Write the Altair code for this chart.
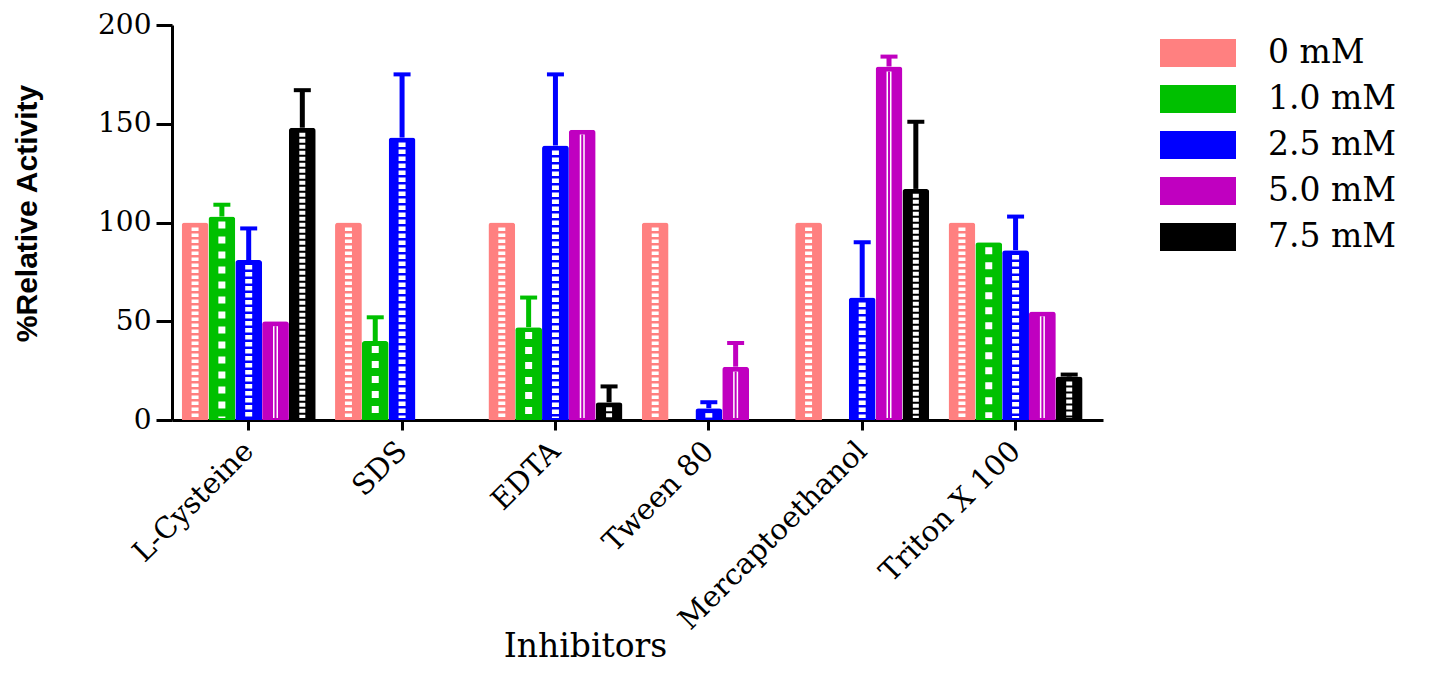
import altair as alt
import pandas as pd

inhibitors = ["L-Cysteine", "SDS", "EDTA", "Tween 80", "Mercaptoethanol", "Triton X 100"]
concs = ["0 mM", "1.0 mM", "2.5 mM", "5.0 mM", "7.5 mM"]
colors = ["#FF8080", "#00C000", "#0000FF", "#C000C0", "#000000"]

act_0 = [100, 100, 100, 100, 100, 100]
act_10 = [103, 40, 47, None, None, 90]
act_25 = [81, 143, 139, 6, 62, 86]
act_50 = [50, None, 147, 27, 179, 55]
act_75 = [148, None, 9, None, 117, 22]

err_0 = [None, None, None, None, None, None]
err_10 = [109, 52, 62, None, None, None]
err_25 = [97, 175, 175, 9, 90, 103]
err_50 = [None, None, None, 39, 184, None]
err_75 = [167, None, 17, None, 151, 23]

acts = [act_0, act_10, act_25, act_50, act_75]
errs = [err_0, err_10, err_25, err_50, err_75]

rows = []
for c, av, ev in zip(concs, acts, errs):
    for inh, a, e in zip(inhibitors, av, ev):
        if a is None:
            continue
        rows.append({"inhibitor": inh, "conc": c, "value": a, "err": e})
df = pd.DataFrame(rows)

serif = "DejaVu Serif"

X = alt.X("inhibitor:N", sort=inhibitors,
          scale=alt.Scale(domain=inhibitors, paddingInner=0, paddingOuter=0.035, align=0),
          axis=alt.Axis(title="Inhibitors", labelAngle=-45, labelAlign="right", labelBaseline="middle",
                        labelFont=serif, labelFontSize=29, labelColor="black", labelPadding=16,
                        labelLimit=0, labelOverlap=False,
                        tickSize=10, tickWidth=3, tickColor="black", domainWidth=3, domainColor="black",
                        titleFont=serif, titleFontSize=33, titleFontWeight="normal", titleColor="black",
                        titleX=413, titleY=226, titleBaseline="middle", titleAnchor="middle",
                        titleAlign="center"))
XO = alt.XOffset("conc:N", sort=concs,
                 scale=alt.Scale(domain=concs, paddingInner=0.0, paddingOuter=0.36))
Y = alt.Y("value:Q", scale=alt.Scale(domain=[0, 200], nice=False),
          axis=alt.Axis(title="%Relative Activity", values=[0, 50, 100, 150, 200], grid=False,
                        labelFont=serif, labelFontSize=28, labelColor="black", labelPadding=5,
                        tickSize=16, tickWidth=3, tickColor="black", domainWidth=3, domainColor="black",
                        titleFont="Liberation Sans", titleFontSize=30, titleFontWeight="bold",
                        titleColor="black", titleX=-145, titleY=188, titleAngle=-90,
                        titleAlign="center", titleBaseline="middle"))
C = alt.Color("conc:N", sort=concs, scale=alt.Scale(domain=concs, range=colors),
              legend=alt.Legend(orient="none", legendX=1007, legendY=9, title=None,
                                symbolType="M-2,-0.74L2,-0.74L2,0.74L-2,0.74Z",
                                symbolSize=1444, symbolStrokeWidth=0, symbolOpacity=1,
                                labelFont=serif, labelFontSize=33, labelColor="black",
                                labelOffset=51, rowPadding=10))
Cn = alt.Color("conc:N", sort=concs, scale=alt.Scale(domain=concs, range=colors), legend=None)

base = alt.Chart(df)

bars = base.mark_bar(cornerRadiusTopLeft=3, cornerRadiusTopRight=3).encode(x=X, xOffset=XO, y=Y, color=C)

errdf = base.transform_filter("datum.err != null")
err_lines = errdf.mark_rule(strokeWidth=5).encode(x=X, xOffset=XO, y=Y, y2="err:Q", color=Cn)
err_caps = errdf.mark_tick(thickness=4, size=17, opacity=1).encode(
    x=X, xOffset=XO, y=alt.Y("err:Q"), color=Cn)

def pattern(conc, width, dash, color="white"):
    m = base.transform_filter(alt.datum.conc == conc).transform_calculate(
        top="datum.value - 2.5", bot="1")
    kw = {"strokeWidth": width, "color": color}
    if dash:
        kw["strokeDash"] = dash
    return m.mark_rule(**kw).encode(x=X, xOffset=XO, y=alt.Y("top:Q"), y2="bot:Q")

layers = [bars, err_lines, err_caps,
          pattern("0 mM", 7, [3.5, 2.5]),
          pattern("1.0 mM", 7, [7, 8]),
          pattern("2.5 mM", 7, [4.5, 2.5]),
          pattern("5.0 mM", 5, None),
          pattern("5.0 mM", 2, None, "#C000C0"),
          pattern("7.5 mM", 6, [4, 2])]

chart = alt.layer(*layers).properties(
    width=931, height=395,
    background="white",
    autosize=alt.AutoSizeParams(type="none"),
    padding={"left": 164, "top": 17, "right": 320, "bottom": 245},
).configure_view(stroke=None)

chart.save("out.html", embed_options={"renderer": "svg", "actions": False})
